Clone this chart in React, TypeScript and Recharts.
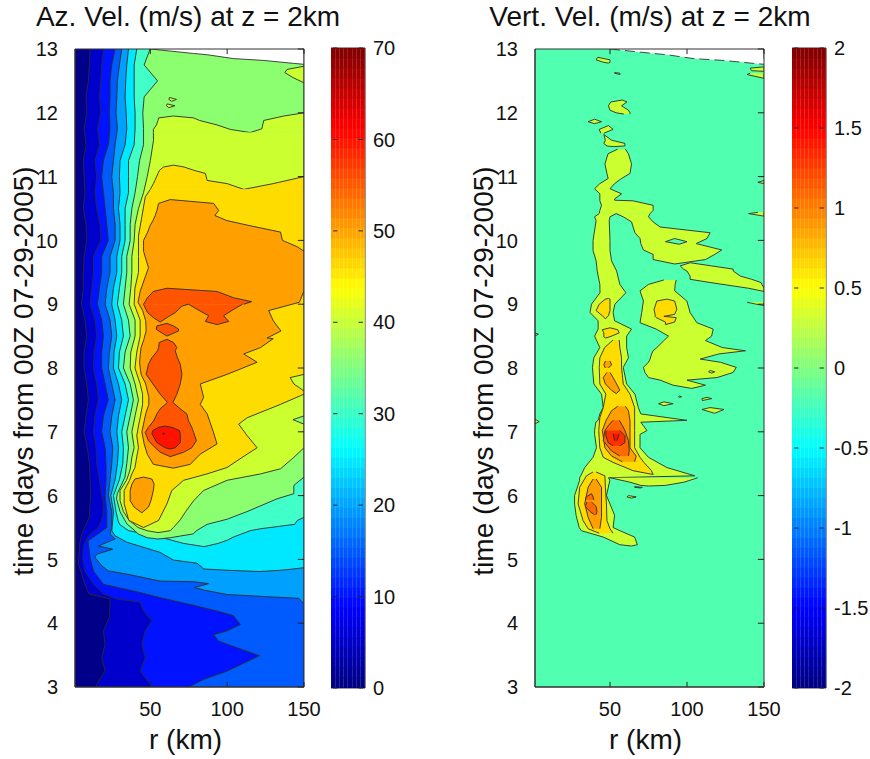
import { Area, Bar, BarChart, ComposedChart, ReferenceArea, ReferenceLine, XAxis, YAxis } from "recharts";

type Row = [number, number, number]; // time (days), inner r, outer r (km)
type Layer = { rows: Row[]; fill: string; noLine?: boolean };

const rTicks = [50, 100, 150];
const timeTicks = [3, 4, 5, 6, 7, 8, 9, 10, 11, 12, 13];
const azBarTicks = [0, 10, 20, 30, 40, 50, 60, 70];
const vvBarTicks = [-2, -1.5, -1, -0.5, 0, 0.5, 1, 1.5, 2];
const barColumns = ["a", "b", "c", "d", "e", "f", "g", "h"];

// times shared by the nearly vertical contours along the inner wall
const wallT = [13, 12.75, 12.5, 12.25, 12, 11.75, 11.5, 11.25, 11, 10.75, 10.5, 10.25, 10, 9.75, 9.5, 9.25, 9, 8.75, 8.5, 8.25, 8, 7.75, 7.5, 7.25, 7, 6.75, 6.5, 6.25, 6];
const az5Wall = [10.8, 10.3, 9.7, 8.2, 8.6, 6.9, 8.2, 6.4, 6.9, 7.5, 6.4, 8.2, 8.6, 6.9, 6.4, 6.4, 5.3, 7.5, 8.6, 6.9, 6.9, 8.6, 9.7, 8.2, 6.9, 9, 10.4, 10.8, 11.2];
const az10Wall = [19.5, 18.4, 17.7, 16.9, 17.7, 15.6, 16.9, 14, 15.1, 14, 15.1, 17.3, 17.7, 13, 13, 11.9, 10.8, 14, 15.1, 13.4, 13, 15.1, 16.2, 14, 13, 14.7, 15.1, 16.9, 18.4];
const az15Wall = [27.1, 24.9, 23.8, 23.8, 23.4, 23.8, 22.7, 19.5, 18.4, 19.5, 20.6, 21.7, 22.7, 18.4, 18.4, 16.9, 15.6, 18.4, 19.5, 18.4, 18.4, 20.6, 22.7, 19.5, 18.4, 20.6, 21.2, 21.2, 20.6];
const az20Wall = [31.4, 29.9, 28.6, 28.2, 27.7, 28.6, 27.1, 26, 24.9, 26, 26, 27.1, 27.1, 23.8, 23.8, 21.7, 20.6, 23.8, 24.9, 23.4, 22.7, 24.9, 27.1, 24.9, 23.8, 25.6, 24.9, 23.8, 22.7];
const az25Wall = [35.8, 34.7, 34, 33.6, 34.3, 34.7, 33.6, 30.3, 29.9, 30.3, 29.3, 30.3, 30.3, 28.2, 28.2, 26, 24.9, 27.1, 28.2, 26.4, 26, 29.3, 31.4, 29.3, 28.2, 29.3, 28.6, 27.1, 24.3];
const az30Wall = [41.2, 39.5, 39.5, 39.5, 40.1, 40.1, 39.5, 35.8, 35.8, 35.8, 33.6, 33.6, 33.6, 31.4, 31.4, 29.9, 28.6, 31.4, 32.5, 29.9, 29.3, 33.6, 35.8, 33.6, 31.4, 32.5, 32.1, 29.9, 26];
const az35Wall = [49.9, 46, 54.7, 46, 45.1, 45.6, 45.6, 43, 41.7, 40.1, 38, 36.9, 36.9, 34.7, 34.7, 33.6, 32.5, 35.8, 36.9, 33.6, 32.5, 36.9, 39, 36.9, 34.7, 35.8, 34.7];

const az5Tail: Row[] = [[5.87, 10.8, 150], [5.66, 10.3, 150], [5.4, 5.4, 150], [5.24, 4, 150], [4.93, 3.2, 150], [4.61, 7.5, 150], [4.46, 10, 150], [4.38, 23.8, 150], [4.09, 23.4, 150], [3.88, 19.5, 150], [3.67, 20.6, 150], [3.46, 18.4, 150], [3.25, 20.6, 150], [3.04, 15.1, 150], [3, 15.1, 150]];
const az10Tail: Row[] = [[5.87, 19.5, 150], [5.66, 19, 150], [5.5, 16.2, 150], [5.37, 9.7, 150], [5.24, 6.9, 150], [5.03, 6, 150], [4.82, 7.5, 150], [4.61, 13, 150], [4.46, 19.5, 150], [4.38, 28.2, 150], [4.33, 43.4, 150], [4.19, 45.6, 150], [4.04, 51, 150], [3.88, 46.7, 150], [3.67, 44.5, 150], [3.46, 46.7, 150], [3.25, 43.4, 150], [3.04, 49.9, 150], [3, 50, 150]];
const az15Tail: Row[] = [[5.75, 21.7, 150], [5.5, 21.7, 150], [5.4, 16, 150], [5.29, 9.5, 150], [5.03, 10.8, 150], [4.82, 13, 150], [4.61, 19.5, 150], [4.48, 43.4, 150], [4.4, 56.4, 150], [4.28, 78.2, 150], [4.19, 93.4, 150], [4.12, 104, 150], [3.98, 108.6, 150], [3.88, 99.9, 150], [3.82, 91.2, 150], [3.72, 94.5, 150], [3.67, 100, 150], [3.49, 121, 150], [3.25, 100, 150], [3.12, 84.7, 150], [3, 75, 150]];
const az20Tail: Row[] = [[5.75, 24.9, 150], [5.5, 24.9, 150], [5.4, 23.8, 150], [5.32, 27.1, 150], [5.21, 16.2, 150], [5.16, 25.6, 150], [5.08, 15.1, 150], [5.03, 14, 150], [4.9, 18.4, 150], [4.82, 22.7, 150], [4.77, 34.7, 150], [4.66, 56.4, 150], [4.65, 78.2, 150], [4.62, 87.9, 150], [4.56, 78.8, 150], [4.52, 84.7, 150], [4.45, 99.9, 150], [4.41, 130, 150], [4.39, 146.7, 150], [4.3, 150, 150]];
const az25Tail: Row[] = [[5.75, 26, 150], [5.45, 25, 150], [5.37, 27.1, 150], [5.27, 34.7, 150], [5.11, 56.4, 150], [4.99, 65, 150], [4.94, 80.4, 150], [4.87, 84, 150], [4.85, 84.7, 143], [4.83, 100, 135], [4.81, 121, 121]];
const az30Tail: Row[] = [[5.75, 27.7, 150], [5.66, 28.5, 150], [5.61, 29, 145.6], [5.55, 30, 144], [5.48, 34, 121.7], [5.45, 36, 115], [5.35, 56.4, 104], [5.3, 64, 100], [5.25, 71.7, 94], [5.2, 85, 85]];
const az35Tail: Row[] = [[6.29, 33.5, 150], [6.16, 31, 143.4], [6.03, 28.5, 143.4], [5.95, 28, 132.5], [5.75, 30.3, 113], [5.63, 33, 100], [5.55, 35, 87], [5.45, 40, 80], [5.4, 42, 78], [5.34, 48, 63], [5.32, 55, 55]];

const az40Left: Row[] = [[11.95, 65, 65], [11.92, 55.4, 78.2], [11.88, 55, 82], [11.81, 54, 93.4], [11.74, 52, 102], [11.69, 52, 115]];
const az40Right: Row[] = [[12, 150, 150], [11.95, 137, 150], [11.88, 123.8, 150], [11.75, 122.6, 150], [11.69, 115, 150]];
const az40Main: Row[] = [[11.69, 52, 150], [11.57, 52.1, 150], [11.25, 50, 150], [11, 48, 150], [10.75, 45.6, 150], [10.5, 42.3, 150], [10.25, 40.1, 150], [10, 39.5, 150], [9.75, 38, 150], [9.5, 38, 150], [9.25, 37.3, 150], [9, 36.2, 150], [8.75, 40.1, 150], [8.5, 40.1, 150], [8.25, 37.3, 150], [8, 36.9, 150], [7.75, 40.1, 150], [7.5, 42.3, 150], [7.25, 40.1, 150], [7, 38, 150], [6.75, 39.5, 150], [6.6, 38, 143.4], [6.42, 37, 134.7], [6.34, 36, 121.7], [6.24, 34.5, 100], [6.08, 30.3, 84.7], [5.92, 30.3, 78.2], [5.75, 32.5, 73], [5.62, 36, 69.5], [5.5, 42, 65], [5.45, 48, 63], [5.42, 55, 55]];
const az45Left: Row[] = [[11.18, 65.1, 65.1], [11.15, 58.6, 72], [11.1, 56, 78.2], [11.05, 55, 85.8], [10.94, 53, 87], [10.89, 52, 100], [10.8, 50, 110.8]];
const az45Right: Row[] = [[11, 150, 150], [10.89, 130, 150], [10.8, 110.8, 150]];
const az45Main: Row[] = [[10.8, 50, 150], [10.68, 46.7, 150], [10.37, 44.5, 150], [10.07, 42.3, 150], [9.75, 42.3, 150], [9.5, 42.3, 150], [9.25, 40, 150], [9, 39.5, 150], [8.75, 43.4, 150], [8.5, 43.4, 150], [8.25, 41.2, 150], [8, 40, 150], [7.75, 43.4, 150], [7.59, 45, 150], [7.43, 45, 134.7], [7.22, 43.4, 113], [7.12, 42.5, 107.5], [6.94, 41.2, 113], [6.75, 42.3, 119.5], [6.65, 41.5, 113], [6.44, 40, 99.9], [6.34, 38, 86.9], [6.24, 36.5, 71.7], [6.08, 33, 64], [5.87, 33, 60.8], [5.61, 36, 55.4], [5.5, 45.6, 45.6]];
const az50Main: Row[] = [[10.64, 63, 63], [10.58, 55.4, 91.2], [10.47, 54.3, 94.5], [10.39, 53.2, 92], [10.31, 51.7, 99.9], [10.24, 50, 113], [10.13, 48.3, 134.7], [10, 45.6, 136], [9.9, 45.6, 145.6], [9.83, 45.6, 150], [9.57, 48.8, 150], [9.21, 43.5, 150], [9.03, 42, 147], [8.9, 45, 127], [8.74, 47, 130], [8.58, 47.3, 135], [8.47, 46, 126], [8.46, 46, 130], [8.32, 44, 121.7], [8.22, 43.5, 110.8], [8.09, 43, 119.5], [7.9, 44, 99.9], [7.75, 47, 82.5], [7.54, 49, 84.7], [7.43, 49, 82.5], [7.28, 47, 87], [7, 44.5, 91], [6.81, 46, 93.4], [6.65, 48, 82.5], [6.49, 52, 76], [6.43, 65, 65]];
const az50Low: Row[] = [[6.29, 45.6, 45.6], [6.26, 40, 51], [6.18, 38, 52.5], [6.08, 36.9, 52], [5.92, 36.9, 50.4], [5.82, 39.5, 48.8], [5.73, 44.5, 44.5]];
const az55Top: Row[] = [[9.25, 60.8, 60.8], [9.2, 52, 93.4], [9.1, 48, 104.3], [9.04, 46.7, 116], [9, 45.6, 110.8]];
const az55Hook: Row[] = [[9, 45.6, 74.9], [8.97, 46.1, 70.6], [8.87, 48.2, 66.3], [8.79, 52, 60.8], [8.72, 56.4, 56.4]];
const az55Tail: Row[] = [[9, 74.9, 110], [8.92, 80.4, 104.3], [8.82, 88, 97.7], [8.73, 85.8, 101], [8.68, 93.4, 93.4]];
const az55Small: Row[] = [[8.7, 60.8, 60.8], [8.66, 54.3, 65], [8.61, 53.8, 68.4], [8.58, 55.5, 68.4], [8.5, 60.8, 60.8]];
const az55Core: Row[] = [[8.45, 60.8, 60.8], [8.4, 55.8, 65.1], [8.32, 55.4, 67.3], [8.27, 54.7, 66.2], [8.16, 51, 67.7], [8.06, 48.8, 69.5], [7.9, 47.3, 70.6], [7.75, 51.7, 69.5], [7.59, 56.4, 67.3], [7.46, 61.2, 64.7], [7.36, 56.4, 69.5], [7.28, 54.3, 73.8], [7.17, 52.1, 74.9], [7.07, 48.8, 77], [6.99, 46.7, 78.2], [6.86, 48.8, 80], [6.75, 53.2, 77], [6.68, 56.4, 71.7], [6.61, 63, 63]];
const az60: Row[] = [[7.09, 59.7, 59.7], [7.07, 55.4, 64], [7.02, 51.7, 69], [6.97, 51, 69.5], [6.83, 54.3, 69.5], [6.75, 59.7, 66.2], [6.73, 63, 63]];
const az65: Row[] = [[6.985, 58.6, 58.6], [6.97, 58, 59.2], [6.955, 58.6, 58.6]];
const azLensA: Row[] = [[7.9, 150, 150], [7.85, 141, 150], [7.75, 143.4, 150], [7.64, 150, 150]];
const azLensB: Row[] = [[7.25, 150, 150], [7.19, 142.8, 150], [7.12, 150, 150]];
const azLensC: Row[] = [[12.73, 150, 150], [12.68, 139, 150], [12.63, 137.5, 150], [12.55, 143, 150], [12.47, 150, 150]];
const azDotA: Row[] = [[12.24, 62.5, 62.5], [12.21, 62, 67], [12.18, 64, 64]];
const azDotB: Row[] = [[12.14, 61, 61], [12.11, 60.5, 66], [12.08, 62, 62]];

// no data above this edge
const missingTop: Row[] = [[13, 50, 150], [12.93, 78, 150], [12.91, 87, 150], [12.85, 104, 150], [12.82, 124, 150], [12.775, 143, 150], [12.76, 150, 150]];

const vvBack: Row[] = [[13, 1, 150], [3, 1, 150]];
const vvIslandA: Row[] = [[12.87, 42, 42], [12.83, 41, 50], [12.79, 46, 50], [12.78, 49, 49]];
const vvIslandB: Row[] = [[12.63, 53, 53], [12.62, 53, 56.5], [12.6, 56.5, 56.5]];
const vvIslandC: Row[] = [[12.2, 58, 58], [12.17, 50.5, 61], [12.11, 49, 57.5], [12.04, 50, 62], [12, 54, 63], [11.98, 59, 63]];
const vvIslandD: Row[] = [[11.9, 40, 40], [11.86, 35.8, 44.5], [11.83, 40, 40]];
const vvIslandE: Row[] = [[11.8, 49, 49], [11.74, 43, 52], [11.68, 44, 46]];
const vvIslandF: Row[] = [[11.66, 46, 46], [11.57, 47, 51], [11.52, 46, 59.7], [11.48, 48, 59.7], [11.47, 52, 52]];
const vvTrunkTop: Row[] = [[11.43, 55, 60], [11.36, 48.8, 61.9], [11.2, 46.7, 64], [11.05, 48, 63], [10.97, 48.8, 57.5], [10.89, 43.4, 53], [10.81, 40, 50], [10.73, 43.4, 57.5], [10.65, 43.4, 53], [10.63, 43.4, 53], [10.62, 43.4, 65], [10.55, 44.5, 78], [10.47, 43.4, 78], [10.42, 43, 76]];
const vvBranch: Row[] = [[10.42, 54, 76], [10.37, 58.6, 75], [10.29, 64, 78], [10.21, 65, 82.5], [10.12, 66.2, 115], [10.03, 69.5, 113], [9.95, 70, 106], [9.85, 71.7, 122.6], [9.78, 78, 118], [9.7, 78, 112], [9.63, 92, 92]];
const vvBranchHole: Row[] = [[10.03, 92, 92], [9.98, 86, 100], [9.94, 95, 95]];
const vvTrunk: Row[] = [[10.42, 43, 54], [10.37, 40, 50], [10.31, 41, 49.5], [10, 39, 50], [9.84, 39, 50], [9.68, 41, 51], [9.52, 41.7, 54.3], [9.31, 43.4, 56.4], [9.18, 43.5, 60.3], [9, 38, 53.2], [8.87, 37, 52], [8.74, 42.3, 53], [8.61, 42.3, 64], [8.5, 40, 60.8], [8.32, 43.4, 60.8], [8.16, 39.5, 62], [8.01, 38.6, 58.6], [7.75, 39.5, 60.8], [7.59, 44.5, 66.2], [7.38, 45.6, 68.4], [7.28, 43.4, 70], [7.18, 42.3, 99.9], [7.15, 40.8, 70], [7.02, 40, 74], [6.96, 40, 69.5], [6.75, 41.2, 69.5], [6.6, 39, 75], [6.44, 33.6, 86.9], [6.31, 31, 105], [6.28, 30.3, 49], [6.24, 30.3, 49.9], [6, 27, 47.7], [5.87, 27, 50], [5.69, 28, 53], [5.5, 30, 52], [5.45, 31.4, 56.4], [5.35, 45.6, 66], [5.23, 56.4, 67.8], [5.21, 64, 64]];
const vvArm: Row[] = [[6.28, 50, 107], [6.21, 63, 98], [6.16, 70, 86], [6.15, 75, 75]];
const vvIslandG: Row[] = [[6, 62, 62], [5.98, 61, 67], [5.96, 64, 64]];
const vvIslandH: Row[] = [[6.14, 66, 66], [6.13, 66, 71], [6.12, 70, 70]];
const vvBand: Row[] = [[9.65, 102, 102], [9.6, 95.6, 116], [9.55, 97.7, 130], [9.52, 100, 130], [9.44, 102, 134.7], [9.39, 102, 142], [9.34, 115, 148], [9.25, 140, 150], [9.2, 150, 150]];
const vvBlob: Row[] = [[9.38, 85, 93], [9.31, 75, 92.3], [9.21, 69.5, 92], [9.05, 71.7, 99.9], [8.87, 70.6, 102], [8.71, 69.5, 106.4], [8.61, 80, 117], [8.5, 88, 116], [8.43, 85, 112], [8.32, 80.4, 123], [8.27, 78, 138], [8.22, 77, 120.6], [8.14, 76, 108.6], [8.09, 75, 121.7], [8.01, 71.7, 132], [7.93, 72.7, 130], [7.85, 75, 119.5], [7.81, 82.5, 100], [7.73, 91, 112], [7.68, 103, 103]];
const vvIslandI: Row[] = [[7.47, 85, 85], [7.44, 81.5, 91], [7.41, 85, 85]];
const vvIslandJ: Row[] = [[7.54, 113, 113], [7.52, 109.7, 116], [7.49, 110, 110]];
const vvIslandK: Row[] = [[7.38, 115, 115], [7.35, 109.7, 124], [7.29, 118, 118]];
const vvIslandL: Row[] = [[7.56, 95, 95], [7.55, 94.5, 96.5], [7.54, 95, 95]];
const vvIslandM: Row[] = [[7.96, 115, 115], [7.94, 114, 118], [7.92, 116, 116]];
const vvEdgeA: Row[] = [[12.72, 150, 150], [12.7, 141, 150], [12.66, 142, 150], [12.65, 150, 150]];
const vvEdgeB: Row[] = [[12.62, 141, 150], [12.6, 139, 150], [12.54, 150, 150]];
const vvEdgeC: Row[] = [[10.94, 150, 150], [10.91, 146, 150], [10.89, 150, 150]];
const vvEdgeD: Row[] = [[10.44, 146, 150], [10.42, 140, 150], [10.38, 150, 150]];
const vvEdgeE: Row[] = [[9.03, 139, 150], [9, 145, 150], [8.98, 150, 150]];
const vvEdgeF: Row[] = [[8.55, 1, 1], [8.53, 1, 3.5], [8.5, 1, 1]];
const vvEdgeG: Row[] = [[7.2, 1, 1], [7.16, 1, 4], [7.12, 1, 1]];
const vvGoldA: Row[] = [[9.09, 49, 49], [9.08, 47, 50], [9, 43, 50], [8.9, 41, 50], [8.82, 45, 49], [8.77, 47, 47]];
const vvGoldB: Row[] = [[8.63, 50, 50], [8.6, 45, 55], [8.55, 46, 56], [8.49, 46, 50], [8.47, 47, 47]];
const vvGoldC: Row[] = [[8.44, 52, 56], [8.32, 46.5, 56.4], [8.16, 43.4, 57.5], [8.01, 43, 57.5], [7.75, 43.4, 58.6], [7.59, 47.3, 63], [7.38, 45.6, 66], [7.22, 43.4, 66], [7.02, 42.7, 66], [6.75, 43.4, 66], [6.6, 45.6, 69.5], [6.52, 52, 72], [6.39, 65, 77], [6.33, 78, 78]];
const vvGoldD: Row[] = [[6.37, 39, 41], [6.31, 34.7, 46.7], [6.13, 30.3, 47], [5.87, 29.3, 47.7], [5.61, 32.5, 48], [5.48, 35.8, 50], [5.41, 43, 52]];
const vvGoldE: Row[] = [[9.08, 87, 87], [9.05, 80.4, 92], [8.92, 78.6, 93.4], [8.84, 79.3, 92], [8.81, 79.3, 85], [8.79, 80, 93], [8.72, 86, 92], [8.68, 86, 86]];
const vvOrangeA: Row[] = [[8.11, 47, 50], [8.05, 46, 51], [8, 47, 49]];
const vvOrangeB: Row[] = [[7.93, 48, 50], [7.85, 45.6, 52], [7.75, 47, 54.3], [7.65, 51, 56.4], [7.6, 54, 54]];
const vvOrangeC: Row[] = [[7.4, 55, 60], [7.33, 51, 62], [7.17, 47.3, 63], [7.02, 45, 63], [6.75, 46.7, 63], [6.62, 51, 67], [6.53, 58, 66]];
const vvOrangeD: Row[] = [[6.26, 39, 41], [6.13, 35.8, 44.5], [5.87, 33.6, 44.5], [5.66, 35.8, 44.5], [5.48, 39, 43.4]];
const vvRedA: Row[] = [[7.18, 52, 56], [7.1, 49, 58], [7.02, 46.7, 59.7], [6.86, 45.6, 62], [6.7, 51, 62.5], [6.62, 56.4, 62]];
const vvRedB: Row[] = [[6.03, 38, 38], [5.98, 34.5, 39], [5.93, 34, 39.5]];
const vvRedC: Row[] = [[5.9, 35, 38], [5.83, 34, 41], [5.75, 37, 41.5], [5.7, 40, 41]];
const vvDeepA: Row[] = [[7.02, 47.3, 56.4], [6.94, 47.3, 59.7], [6.83, 48.8, 59.7], [6.78, 52, 56.4]];
const vvDeepB: Row[] = [[6.97, 52, 56], [6.86, 53, 54.5]];

const wall = (inner: number[]): Row[] => inner.map((r, i) => [wallT[i], r, 150]);

const azLayers: Layer[] = [
  { rows: [[13, 1, 150], [3, 1, 150]], fill: "#000088", noLine: true },
  { rows: [...wall(az5Wall), ...az5Tail], fill: "#0000cc" },
  { rows: [...wall(az10Wall), ...az10Tail], fill: "#0012ff" },
  { rows: [...wall(az15Wall), ...az15Tail], fill: "#005bff" },
  { rows: [...wall(az20Wall), ...az20Tail], fill: "#00a0ff" },
  { rows: [...wall(az25Wall), ...az25Tail], fill: "#00e8ff" },
  { rows: [...wall(az30Wall), ...az30Tail], fill: "#40ffc8" },
  { rows: [...wall(az35Wall), ...az35Tail], fill: "#8cff70" },
  { rows: azLensC, fill: "#ccff30" },
  { rows: azDotA, fill: "#ccff30" },
  { rows: azDotB, fill: "#ccff30" },
  { rows: az40Left, fill: "#ccff30" },
  { rows: az40Right, fill: "#ccff30" },
  { rows: az40Main, fill: "#ccff30" },
  { rows: azLensB, fill: "#8cff70" },
  { rows: az45Left, fill: "#ffdc00" },
  { rows: az45Right, fill: "#ffdc00" },
  { rows: az45Main, fill: "#ffdc00" },
  { rows: azLensA, fill: "#ccff30" },
  { rows: az50Main, fill: "#ffa000" },
  { rows: az50Low, fill: "#ffa000" },
  { rows: az55Top, fill: "#ff5400" },
  { rows: az55Hook, fill: "#ff5400" },
  { rows: az55Tail, fill: "#ff5400" },
  { rows: az55Small, fill: "#ff5400" },
  { rows: az55Core, fill: "#ff5400" },
  { rows: az60, fill: "#ff1200" },
  { rows: az65, fill: "#cc0000" },
];

const BACK = "#50ffb0";
const YG = "#ccff30";
const vvLayers: Layer[] = [
  { rows: vvBack, fill: BACK, noLine: true },
  ...[vvIslandA, vvIslandB, vvIslandC, vvIslandD, vvIslandE, vvIslandF, vvTrunkTop, vvBranch, vvTrunk, vvArm, vvIslandG, vvIslandH, vvBand, vvBlob, vvIslandI, vvIslandJ, vvIslandK, vvIslandL, vvIslandM, vvEdgeA, vvEdgeB, vvEdgeC, vvEdgeD, vvEdgeE, vvEdgeF, vvEdgeG].map((rows) => ({ rows, fill: YG })),
  { rows: vvBranchHole, fill: BACK },
  ...[vvGoldA, vvGoldB, vvGoldC, vvGoldD, vvGoldE].map((rows) => ({ rows, fill: "#ffdc00" })),
  ...[vvOrangeA, vvOrangeB, vvOrangeC, vvOrangeD].map((rows) => ({ rows, fill: "#ffa000" })),
  ...[vvRedA, vvRedB, vvRedC].map((rows) => ({ rows, fill: "#ff6a00" })),
  { rows: vvDeepA, fill: "#ff3000" },
  { rows: vvDeepB, fill: "#ff1000" },
];

// jet colormap, 64 steps, bottom to top
const jetStops = Array.from({ length: 64 }, (_, i) => {
  const f = (i + 0.5) / 64;
  const ch = (c: number) => Math.round(255 * Math.max(0, Math.min(1, 1.5 - Math.abs(4 * f - c))));
  return `rgb(${ch(3)},${ch(2)},${ch(1)})`;
});

const font = "'Liberation Sans', Arial, sans-serif";
const INK = "#111";
const FRAME = "#333";
const TICK = "#222";

const toData = (rows: Row[]) => rows.map(([t, lo, hi]) => ({ t, r: [lo, hi] }));

function ContourPanel({ left, layers, rMin, edgeDash }: { left: number; layers: Layer[]; rMin: number; edgeDash?: string }) {
  const tick = { fontSize: 20, fill: INK, fontFamily: font };
  return (
    <div style={{ position: "absolute", left, top: 0, width: 324, height: 759 }}>
      <ComposedChart width={324} height={759} layout="vertical" margin={{ top: 49, right: 20, bottom: 22, left: 0 }}>
        {layers.map((l, i) => (
          <Area
            key={i}
            data={toData(l.rows)}
            dataKey="r"
            type="linear"
            fill={l.fill}
            fillOpacity={1}
            stroke={l.noLine ? "none" : "#2b2b2b"}
            strokeWidth={0.9}
            dot={false}
            activeDot={false}
            isAnimationActive={false}
          />
        ))}
        <Area data={toData(missingTop)} dataKey="r" type="linear" fill="#fff" fillOpacity={1} stroke="#444" strokeWidth={1} strokeDasharray={edgeDash} dot={false} activeDot={false} isAnimationActive={false} />
        <XAxis
          type="number"
          domain={[rMin, 150]}
          allowDataOverflow
          ticks={rTicks}
          interval={0}
          height={50}
          stroke={FRAME}
          tickSize={0}
          tickMargin={15}
          tick={tick}
          label={{ value: "r (km)", position: "insideBottom", offset: -12, dx: -4, fontSize: 28, fill: INK, fontFamily: font }}
        />
        <YAxis
          type="number"
          dataKey="t"
          domain={[3, 13]}
          reversed
          allowDataOverflow
          ticks={timeTicks}
          interval={0}
          width={75}
          stroke={FRAME}
          tickLine={false}
          tickMargin={11}
          tick={tick}
          label={{ value: "time (days from 00Z 07-29-2005)", angle: -90, position: "insideLeft", offset: 23, dy: 3, fontSize: 28, fill: INK, fontFamily: font, style: { textAnchor: "middle" } }}
        />
        {/* frame and inward ticks */}
        <ReferenceArea x1={rMin} x2={150} y1={3} y2={13} fill="none" stroke={FRAME} strokeWidth={1} ifOverflow="visible" />
        {rTicks.map((r) => (
          <ReferenceLine key={`b${r}`} segment={[{ x: r, y: 3 }, { x: r, y: 3.08 }]} stroke={TICK} ifOverflow="visible" />
        ))}
        {rTicks.map((r) => (
          <ReferenceLine key={`t${r}`} segment={[{ x: r, y: 13 }, { x: r, y: 12.92 }]} stroke={TICK} ifOverflow="visible" />
        ))}
        {timeTicks.map((t) => (
          <ReferenceLine key={`r${t}`} segment={[{ x: 150, y: t }, { x: 146, y: t }]} stroke={TICK} ifOverflow="visible" />
        ))}
      </ComposedChart>
    </div>
  );
}

function ColorBar({ left, domain, ticks }: { left: number; domain: [number, number]; ticks: number[] }) {
  const span = domain[1] - domain[0];
  const step = span / 64;
  const tickValues = ticks.map((t) => t - domain[0]);
  // one stacked column per slot; first stack entry starts from the bottom of the bar
  const rows = barColumns.map((x) => {
    const row: Record<string, number | string> = { x };
    jetStops.forEach((_, i) => {
      row[`s${i}`] = step;
    });
    return row;
  });
  return (
    <div style={{ position: "absolute", left, top: 0, width: 90, height: 720 }}>
      <BarChart width={90} height={720} data={rows} barCategoryGap={0} margin={{ top: 48, right: 0, bottom: 32, left: 0 }}>
        <XAxis dataKey="x" hide />
        <YAxis
          type="number"
          orientation="right"
          domain={[0, span]}
          allowDataOverflow
          ticks={tickValues}
          tickFormatter={(v: number) => String(v + domain[0])}
          interval={0}
          width={56}
          stroke="none"
          tickSize={0}
          tickMargin={8}
          tick={{ fontSize: 20, fill: INK, fontFamily: font }}
        />
        {jetStops.map((c, i) => (
          <Bar key={i} dataKey={`s${i}`} stackId="c" fill={c} stroke={c} strokeWidth={0.4} isAnimationActive={false} />
        ))}
        <ReferenceArea y1={0} y2={span} fill="none" stroke={FRAME} strokeWidth={1} ifOverflow="visible" />
        {tickValues.map((v) => (
          <ReferenceLine key={`l${v}`} segment={[{ x: "a", y: v }, { x: "b", y: v }]} stroke={TICK} ifOverflow="visible" />
        ))}
        {tickValues.map((v) => (
          <ReferenceLine key={`r${v}`} segment={[{ x: "g", y: v }, { x: "h", y: v }]} stroke={TICK} ifOverflow="visible" />
        ))}
      </BarChart>
    </div>
  );
}

function Title({ x, children }: { x: number; children: string }) {
  return (
    <div style={{ position: "absolute", left: x - 200, top: 0, width: 400, textAlign: "center", fontFamily: font, fontSize: 28, lineHeight: "34px", color: INK, whiteSpace: "nowrap" }}>
      {children}
    </div>
  );
}

export default function App() {
  return (
    <div style={{ position: "absolute", left: 0, top: 0, width: 870, height: 759, background: "#fff", overflow: "hidden" }}>
      <Title x={188}>Az. Vel. (m/s) at z = 2km</Title>
      <Title x={650}>Vert. Vel. (m/s) at z = 2km</Title>
      <ContourPanel left={0} layers={azLayers} rMin={1} />
      <ColorBar left={331} domain={[0, 70]} ticks={azBarTicks} />
      <ContourPanel left={460} layers={vvLayers} rMin={1.3} edgeDash="10 5" />
      <ColorBar left={792} domain={[-2, 2]} ticks={vvBarTicks} />
    </div>
  );
}
